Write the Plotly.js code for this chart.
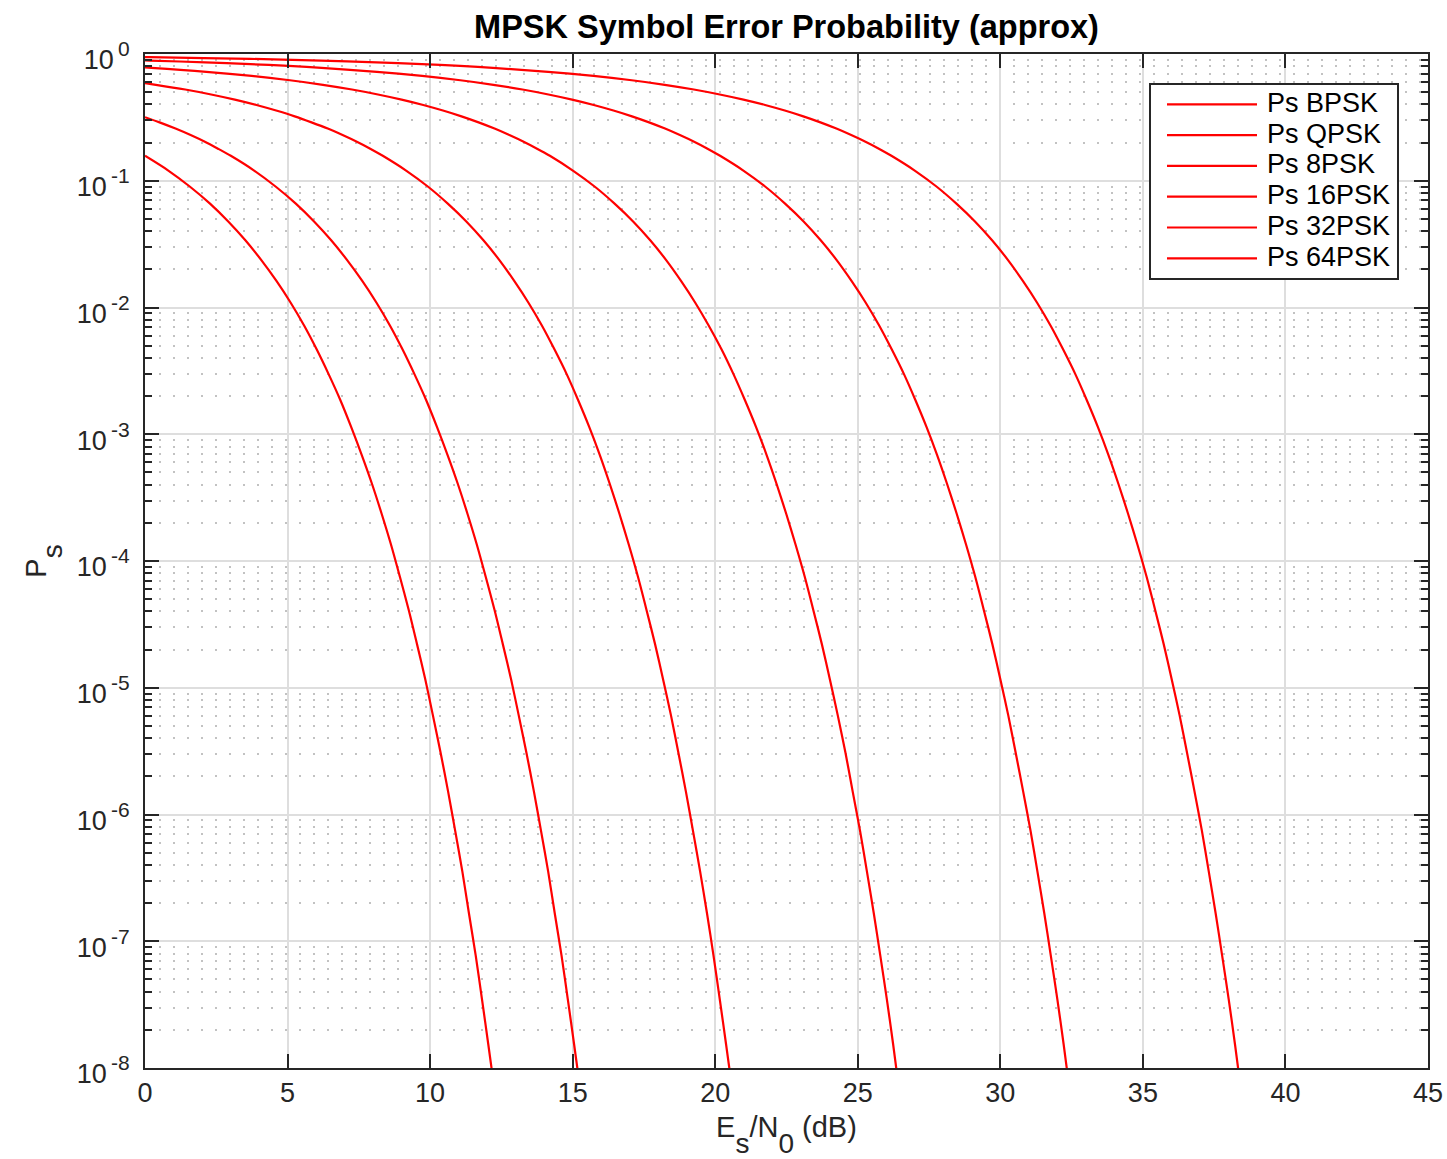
<!DOCTYPE html>
<html>
<head>
<meta charset="utf-8">
<script src="https://cdn.plot.ly/plotly-3.0.1.min.js"></script>
<style>
  html, body { margin: 0; padding: 0; background: #ffffff; }
  #chart { width: 1447px; height: 1159px; }
</style>
</head>
<body>
<div id="chart"></div>
<script>
// ---------------- DATA ----------------
const seriesNames = ['Ps BPSK', 'Ps QPSK', 'Ps 8PSK', 'Ps 16PSK', 'Ps 32PSK', 'Ps 64PSK'];

const snrBPSK = [0, 0.83, 1.58, 2.28, 2.92, 3.52, 4.08, 4.61, 5.11, 5.58, 6.02, 6.44, 6.85, 7.23, 7.60, 7.96,
  8.30, 8.63, 8.94, 9.25, 9.54, 9.83, 10.10, 10.37, 10.63, 10.88, 11.13, 11.36, 11.60, 11.82, 12.04, 12.26];
const psBPSK = [0.1573, 0.1198, 0.08969, 0.06599, 0.04772, 0.03390, 0.02365, 0.01621, 0.01091, 0.007210,
  0.004678, 0.002980, 0.001863, 0.001143, 6.885e-4, 4.070e-4, 2.360e-4, 1.343e-4, 7.501e-5, 4.110e-5,
  2.209e-5, 1.165e-5, 6.026e-6, 3.058e-6, 1.522e-6, 7.43e-7, 3.56e-7, 1.67e-7, 7.7e-8, 3.48e-8, 1.54e-8, 6.7e-9];

const snrQPSK = [0, 0.51, 1.07, 1.60, 2.10, 2.56, 3.01, 3.84, 4.59, 5.29, 5.93, 6.53, 7.09, 7.62, 8.12, 8.59,
  9.03, 9.45, 9.86, 10.24, 10.61, 10.97, 11.31, 11.64, 11.95, 12.26, 12.55, 12.84, 13.11, 13.38, 13.64,
  13.89, 14.14, 14.37, 14.61, 14.83, 15.05, 15.27];
const psQPSK = [0.3173, 0.2888, 0.2579, 0.2293, 0.2031, 0.1791, 0.1573, 0.1198, 0.08969, 0.06599, 0.04772,
  0.03390, 0.02365, 0.01621, 0.01091, 0.007210, 0.004678, 0.002980, 0.001863, 0.001143, 6.885e-4, 4.070e-4,
  2.360e-4, 1.343e-4, 7.501e-5, 4.110e-5, 2.209e-5, 1.165e-5, 6.026e-6, 3.058e-6, 1.522e-6, 7.43e-7,
  3.56e-7, 1.67e-7, 7.7e-8, 3.48e-8, 1.54e-8, 6.7e-9];

const snr8PSK = [0, 0.38, 1.41, 2.32, 3.15, 3.91, 4.60, 5.25, 5.84, 6.41, 6.93, 7.43, 7.90, 8.34, 9.17, 9.93,
  10.62, 11.27, 11.87, 12.43, 12.95, 13.45, 13.92, 14.36, 14.79, 15.19, 15.58, 15.95, 16.30, 16.64, 16.97,
  17.29, 17.59, 17.89, 18.17, 18.45, 18.71, 18.97, 19.22, 19.47, 19.71, 19.94, 20.16, 20.38, 20.60];
const ps8PSK = [0.5884, 0.5716, 0.5245, 0.4795, 0.4367, 0.3961, 0.3580, 0.3222, 0.2888, 0.2579, 0.2293,
  0.2031, 0.1791, 0.1573, 0.1198, 0.08969, 0.06599, 0.04772, 0.03390, 0.02365, 0.01621, 0.01091, 0.007210,
  0.004678, 0.002980, 0.001863, 0.001143, 6.885e-4, 4.070e-4, 2.360e-4, 1.343e-4, 7.501e-5, 4.110e-5,
  2.209e-5, 1.165e-5, 6.026e-6, 3.058e-6, 1.522e-6, 7.43e-7, 3.56e-7, 1.67e-7, 7.7e-8, 3.48e-8, 1.54e-8, 6.7e-9];

const snr16PSK = [0, 0.22, 1.24, 2.15, 3.74, 5.08, 6.24, 7.26, 8.17, 9.00, 9.76, 10.45, 11.10, 11.70, 12.26,
  12.78, 13.28, 13.75, 14.20, 15.02, 15.78, 16.47, 17.12, 17.72, 18.28, 18.80, 19.30, 19.77, 20.22, 20.64,
  21.04, 21.43, 21.80, 22.15, 22.49, 22.82, 23.14, 23.44, 23.74, 24.02, 24.30, 24.57, 24.82, 25.08, 25.32,
  25.56, 25.79, 26.02, 26.24, 26.45];
const ps16PSK = [0.7826, 0.7773, 0.7503, 0.7237, 0.6714, 0.6206, 0.5716, 0.5245, 0.4795, 0.4367, 0.3961,
  0.3580, 0.3222, 0.2888, 0.2579, 0.2293, 0.2031, 0.1791, 0.1573, 0.1198, 0.08969, 0.06599, 0.04772, 0.03390,
  0.02365, 0.01621, 0.01091, 0.007210, 0.004678, 0.002980, 0.001863, 0.001143, 6.885e-4, 4.070e-4, 2.360e-4,
  1.343e-4, 7.501e-5, 4.110e-5, 2.209e-5, 1.165e-5, 6.026e-6, 3.058e-6, 1.522e-6, 7.43e-7, 3.56e-7, 1.67e-7,
  7.7e-8, 3.48e-8, 1.54e-8, 6.7e-9];

const snr32PSK = [0, 0.17, 2.11, 3.70, 5.04, 6.19, 8.13, 9.72, 11.06, 12.22, 13.24, 14.15, 14.98, 15.74, 16.43,
  17.08, 17.68, 18.24, 18.76, 19.26, 19.73, 20.17, 21.00, 21.76, 22.45, 23.10, 23.70, 24.26, 24.78, 25.28,
  25.75, 26.19, 26.62, 27.02, 27.41, 27.78, 28.13, 28.47, 28.80, 29.12, 29.42, 29.72, 30.00, 30.28, 30.54,
  30.80, 31.06, 31.30, 31.54, 31.77, 32.00, 32.22, 32.43];
const ps32PSK = [0.8898, 0.8875, 0.8597, 0.8320, 0.8045, 0.7773, 0.7237, 0.6714, 0.6206, 0.5716, 0.5245,
  0.4795, 0.4367, 0.3961, 0.3580, 0.3222, 0.2888, 0.2579, 0.2293, 0.2031, 0.1791, 0.1573, 0.1198, 0.08969,
  0.06599, 0.04772, 0.03390, 0.02365, 0.01621, 0.01091, 0.007210, 0.004678, 0.002980, 0.001863, 0.001143,
  6.885e-4, 4.070e-4, 2.360e-4, 1.343e-4, 7.501e-5, 4.110e-5, 2.209e-5, 1.165e-5, 6.026e-6, 3.058e-6,
  1.522e-6, 7.43e-7, 3.56e-7, 1.67e-7, 7.7e-8, 3.48e-8, 1.54e-8, 6.7e-9];

const snr64PSK = [0, 0.16, 3.69, 6.18, 8.12, 9.71, 11.05, 12.20, 14.14, 15.73, 17.07, 18.23, 19.25, 20.16,
  20.99, 21.75, 22.44, 23.09, 23.69, 24.25, 24.77, 25.27, 25.74, 26.18, 27.01, 27.77, 28.46, 29.11, 29.71,
  30.27, 30.79, 31.29, 31.76, 32.20, 32.63, 33.03, 33.42, 33.79, 34.14, 34.48, 34.81, 35.13, 35.43, 35.73,
  36.01, 36.29, 36.55, 36.81, 37.07, 37.31, 37.55, 37.78, 38.01, 38.23, 38.44];
const ps64PSK = [0.9447, 0.9436, 0.9155, 0.8875, 0.8597, 0.8320, 0.8045, 0.7773, 0.7237, 0.6714, 0.6206,
  0.5716, 0.5245, 0.4795, 0.4367, 0.3961, 0.3580, 0.3222, 0.2888, 0.2579, 0.2293, 0.2031, 0.1791, 0.1573,
  0.1198, 0.08969, 0.06599, 0.04772, 0.03390, 0.02365, 0.01621, 0.01091, 0.007210, 0.004678, 0.002980,
  0.001863, 0.001143, 6.885e-4, 4.070e-4, 2.360e-4, 1.343e-4, 7.501e-5, 4.110e-5, 2.209e-5, 1.165e-5,
  6.026e-6, 3.058e-6, 1.522e-6, 7.43e-7, 3.56e-7, 1.67e-7, 7.7e-8, 3.48e-8, 1.54e-8, 6.7e-9];

const xTickVals = [0, 5, 10, 15, 20, 25, 30, 35, 40, 45];
const yTickVals = [1e-8, 1e-7, 1e-6, 1e-5, 1e-4, 1e-3, 1e-2, 1e-1, 1];
const yTickExps = ['-8', '-7', '-6', '-5', '-4', '-3', '-2', '-1', '0'];

// ---------------- FIGURE ----------------
const W = 1447, H = 1159;
const L = 145, R = 1428, T = 54, B = 1068;
const px2x = p => (p - L) / (R - L);
const py2y = p => (B - p) / (B - T);

const xs = [snrBPSK, snrQPSK, snr8PSK, snr16PSK, snr32PSK, snr64PSK];
const ys = [psBPSK, psQPSK, ps8PSK, ps16PSK, ps32PSK, ps64PSK];
const RED = '#ff0000';
const AX = '#262626';
const FONT = 'Liberation Sans, Arial, Helvetica, sans-serif';

// MATLAB-like superscript / subscript (large, strongly shifted)
const supTxt = s => '10<span style="font-size:21px;baseline-shift:13px">\u2009' + s + '</span>';
const subTxt = s => '<span style="font-size:28px;baseline-shift:-16px">' + s + '</span>';
const yTickText = yTickExps.map(supTxt);

const traces = xs.map((x, i) => ({
  type: 'scatter', mode: 'lines', name: seriesNames[i],
  x: x, y: ys[i],
  line: { color: RED, width: 2.2, shape: 'spline', smoothing: 0.8 },
  showlegend: false, hoverinfo: 'skip'
}));

// Legend drawn as a MATLAB-style box
const legL = 1150, legR = 1398, legT = 84, legB = 279;
const legRow0 = 104.3, legStep = 30.8;
const shapes = [{
  type: 'rect', xref: 'paper', yref: 'paper', layer: 'above',
  x0: px2x(legL), x1: px2x(legR), y0: py2y(legB), y1: py2y(legT),
  line: { color: AX, width: 2 }, fillcolor: '#ffffff'
}];
const annotations = [];
seriesNames.forEach((nm, i) => {
  const yy = legRow0 + i * legStep;
  shapes.push({
    type: 'line', xref: 'paper', yref: 'paper', layer: 'above',
    x0: px2x(1167), x1: px2x(1257), y0: py2y(yy), y1: py2y(yy),
    line: { color: RED, width: 2.2 }
  });
  annotations.push({
    xref: 'paper', yref: 'paper', x: px2x(1265), y: py2y(yy - 1.5),
    xanchor: 'left', yanchor: 'middle', showarrow: false, text: nm,
    font: { family: FONT, size: 27, color: '#000000' }
  });
});

const layout = {
  width: W, height: H,
  margin: { l: L, r: W - R, t: T, b: H - B, pad: 0 },
  paper_bgcolor: '#ffffff', plot_bgcolor: '#ffffff',
  showlegend: false,
  font: { family: FONT, size: 27, color: AX },
  title: {
    text: '<b>MPSK Symbol Error Probability (approx)</b>',
    font: { family: FONT, size: 32.5, color: '#000000' },
    x: 0.5, xref: 'paper', xanchor: 'center',
    y: 1 - 27 / H, yref: 'container', yanchor: 'middle'
  },
  xaxis: {
    range: [0, 45], tickmode: 'array', tickvals: xTickVals,
    ticks: 'inside', ticklen: 14, tickwidth: 2, tickcolor: AX,
    showline: true, linecolor: AX, linewidth: 2, mirror: 'ticks',
    showgrid: true, gridcolor: '#dedede', gridwidth: 2, zeroline: false,
    tickfont: { family: FONT, size: 27, color: AX },
    title: { text: 'E' + subTxt('s') + '/N' + subTxt('0') + ' (dB)',
             font: { family: FONT, size: 29, color: AX }, standoff: 12 }
  },
  yaxis: {
    type: 'log', range: [-8, 0], tickmode: 'array', tickvals: yTickVals, ticktext: yTickText,
    ticks: 'inside', ticklen: 14, tickwidth: 2, tickcolor: AX,
    showline: true, linecolor: AX, linewidth: 2, mirror: 'ticks',
    showgrid: true, gridcolor: '#dedede', gridwidth: 2, zeroline: false,
    tickfont: { family: FONT, size: 27, color: AX },
    ticklabelstandoff: 8, ticklabelshift: 6,
    minor: {
      dtick: 'D1', ticks: 'inside', ticklen: 7, tickwidth: 2, tickcolor: AX,
      showgrid: true, gridcolor: '#c2c2c2', gridwidth: 2, griddash: '2px,12px'
    },
    title: { text: 'P' + subTxt('s'), font: { family: FONT, size: 29, color: AX }, standoff: 22 }
  },
  shapes: shapes,
  annotations: annotations
};

Plotly.newPlot('chart', traces, layout, { staticPlot: true, displayModeBar: false });
</script>
</body>
</html>
